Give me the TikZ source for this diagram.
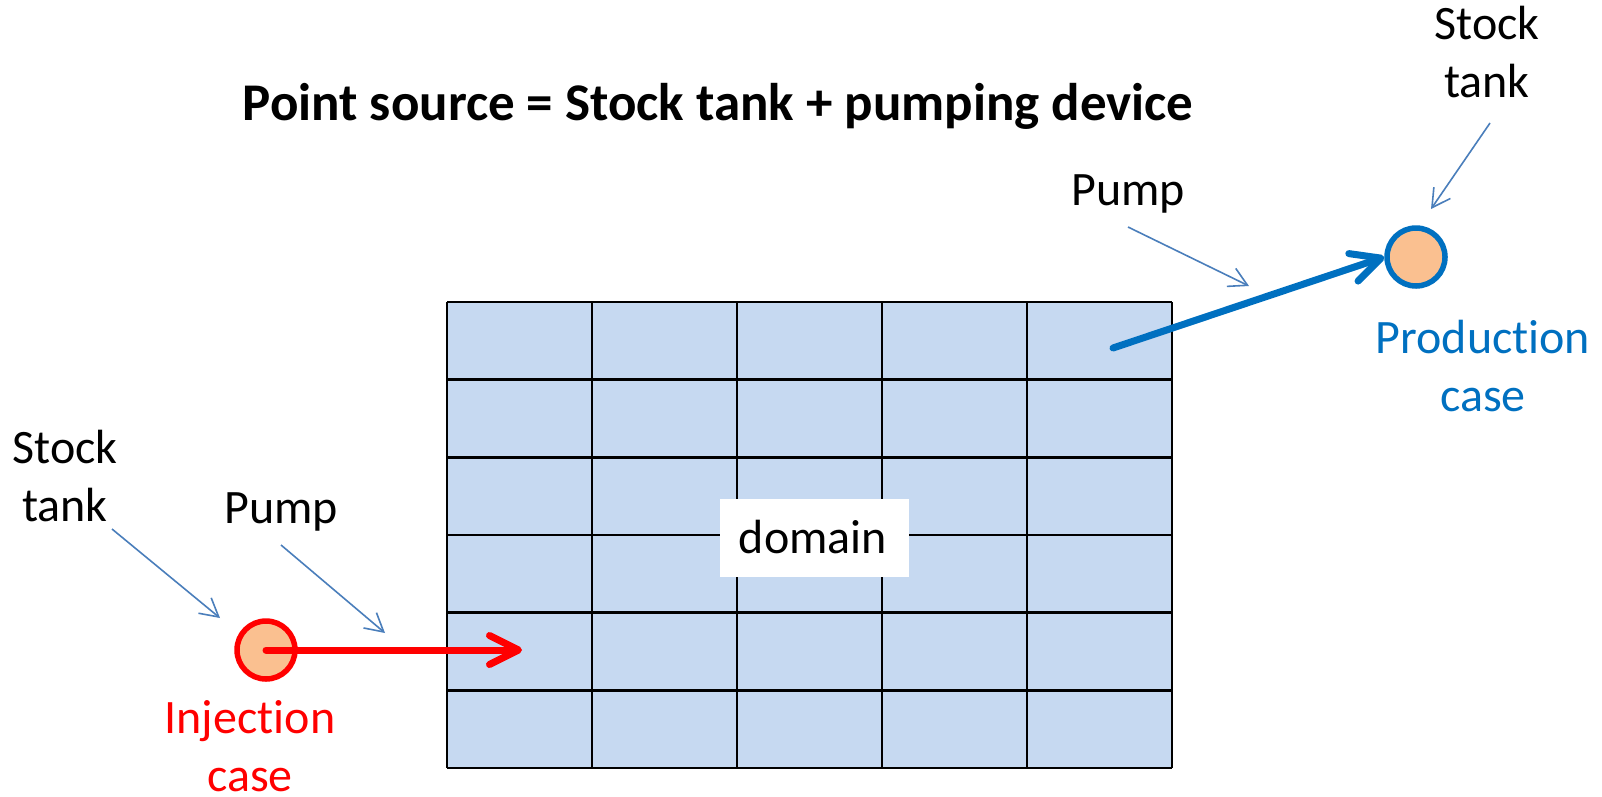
\documentclass[tikz,border=0pt]{standalone}
\usepackage{fontspec}
\setmainfont{Carlito}[Ligatures=NoCommon]
\usetikzlibrary{arrows.meta}
\definecolor{cellfill}{HTML}{C6D9F1}
\definecolor{wellfill}{HTML}{FAC090}
\definecolor{prodblue}{HTML}{0070C0}
\definecolor{injred}{HTML}{FF0000}
\definecolor{pointblue}{HTML}{4A7EBB}
\begin{document}
\begin{tikzpicture}[x=1pt,y=-1pt,
  lbl/.style={font=\fontsize{48}{58}\selectfont, inner sep=0pt, align=center, anchor=base},
  pointer/.style={draw=pointblue, line width=1.6pt, -{Straight Barb[length=18pt,width=20pt]}},
  flow/.style={line width=7pt, line cap=round, -{Straight Barb[length=29pt,width=29pt,round]}},
  well/.style={circle, fill=wellfill, line width=5.5pt, minimum size=58pt, inner sep=0pt},
  cellline/.style={line width=2.5pt, black}]
\useasboundingbox (0,0) rectangle (1602,796);

% title
\node[lbl, font=\fontsize{53}{64}\selectfont\bfseries] (title) at (718,120) {Point source = Stock tank + pumping device};

% computational domain: 5 x 6 cells
\fill[cellfill] (447,302) rectangle (1172,768);
\foreach \i in {0,...,5} \draw[cellline] ({447+145*\i},302) -- ({447+145*\i},768);
\foreach \j in {0,...,6} \draw[cellline] (447,{302+466/6*\j}) -- (1172,{302+466/6*\j});
\node[fill=white, minimum width=189pt, minimum height=78pt, inner sep=0pt] (dombox) at (814.5,538) {};
\node[lbl] (domain) at (813,553) {domain};

% injection side (two-line labels are placed by their last baseline)
\node[well, draw=injred] (inj) at (266,650) {};
\coordinate (injend) at (522,650);
\draw[flow, injred] (inj.center) -- (injend);
\node[lbl, text=injred] (injlbl) at (250,791) {Injection\\case};
\node[lbl] (ltank) at (65,521) {Stock\\tank};
\node[lbl] (lpump) at (281,523) {Pump};
\coordinate (ltankA) at (112,529);
\coordinate (ltankB) at (220,618);
\coordinate (lpumpA) at (281,545);
\coordinate (lpumpB) at (385,633);
\draw[pointer] (ltankA) -- (ltankB);
\draw[pointer] (lpumpA) -- (lpumpB);

% production side
\node[well, draw=prodblue] (prod) at (1416,257) {};
\coordinate (prodstart) at (1113,348);
\draw[flow, prodblue] (prodstart) -- (prod.west);
\node[lbl, text=prodblue] (prodlbl) at (1483,411) {Production\\case};
\node[lbl] (rtank) at (1487,97) {Stock\\tank};
\node[lbl] (rpump) at (1128,205) {Pump};
\coordinate (rtankA) at (1490,123);
\coordinate (rtankB) at (1431,209);
\coordinate (rpumpA) at (1128,227);
\coordinate (rpumpB) at (1249,286);
\draw[pointer] (rtankA) -- (rtankB);
\draw[pointer] (rpumpA) -- (rpumpB);
\end{tikzpicture}
\end{document}
